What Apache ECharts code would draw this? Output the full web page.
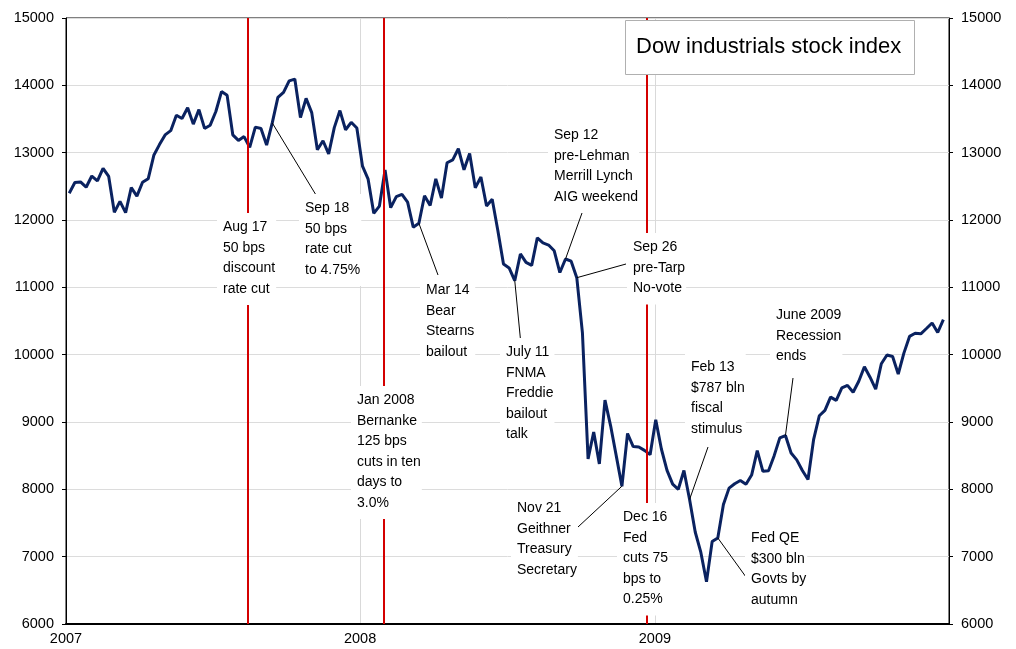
<!DOCTYPE html>
<html>
<head>
<meta charset="utf-8">
<title>Dow industrials stock index</title>
<script src="https://cdn.jsdelivr.net/npm/echarts@6/dist/echarts.min.js"></script>
<style>
  html, body { margin: 0; padding: 0; background: #fff; }
  #chart { width: 1016px; height: 649px; }
</style>
</head>
<body>
<div id="chart"></div>
<script>
// weekly closes (Friday)
const dow2007 = [12398, 12556, 12565, 12487, 12653, 12581, 12768, 12647, 12114, 12276,
  12110, 12481, 12354, 12560, 12612, 12961, 13120, 13264, 13327, 13556,
  13507, 13668, 13424, 13639, 13360, 13408, 13611, 13907, 13851, 13265,
  13182, 13239, 13079, 13379, 13358, 13113, 13442, 13821, 13896, 14066,
  14093, 13522, 13807, 13595, 13043, 13177, 12981, 13372, 13625, 13340,
  13451, 13366];
const dow2008 = [12800, 12606, 12099, 12207, 12743, 12183, 12348, 12381, 12266, 11894,
  11951, 12361, 12216, 12610, 12325, 12850, 12892, 13058, 12745, 12986,
  12480, 12638, 12209, 12307, 11843, 11346, 11288, 11100, 11496, 11370,
  11326, 11734, 11659, 11628, 11543, 11220, 11421, 11388, 11143, 10325,
  8451, 8852, 8378, 9325, 8943, 8497, 8046, 8829, 8635, 8630,
  8579, 8515];
const dow2009 = [9034, 8599, 8281, 8077, 8001, 8280, 7850, 7366, 7063, 6627,
  7224, 7279, 7776, 8018, 8083, 8131, 8076, 8212, 8575, 8268,
  8277, 8500, 8764, 8799, 8539, 8438, 8280, 8146, 8743, 9093,
  9172, 9370, 9321, 9506, 9544, 9441, 9605, 9820, 9665, 9487,
  9865, 9995, 9972, 9713, 10023, 10271, 10318, 10310, 10389, 10471,
  10329, 10520];

const yearLabels = ['2007', '2008', '2009', '2010'];
const yMin = 6000, yMax = 15000, yStep = 1000;

// red event lines
const eventDates = ['2007-08-15', '2008-01-31', '2008-12-22'];

// text notes: x/y = top left of the text in pixels, from = week the pointer starts at
const notes = [
  { text: 'Aug 17\n50 bps\ndiscount\nrate cut', x: 223, y: 217 },
  { text: 'Sep 18\n50 bps\nrate cut\nto 4.75%', x: 305, y: 198, from: '2007-09-14', to: [316, 195] },
  { text: 'Jan 2008\nBernanke\n125 bps\ncuts in ten\ndays to\n3.0%', x: 357, y: 390 },
  { text: 'Mar 14\nBear\nStearns\nbailout', x: 426, y: 280, from: '2008-03-14', to: [438, 275] },
  { text: 'Sep 12\npre-Lehman\nMerrill Lynch\nAIG weekend', x: 554, y: 125, from: '2008-09-12', to: [582, 213] },
  { text: 'Sep 26\npre-Tarp\nNo-vote', x: 633, y: 237, from: '2008-09-26', to: [626, 264] },
  { text: 'July 11\nFNMA\nFreddie\nbailout\ntalk', x: 506, y: 342, from: '2008-07-11', to: [521, 345] },
  { text: 'Nov 21\nGeithner\nTreasury\nSecretary', x: 517, y: 498, from: '2008-11-21', to: [578, 527] },
  { text: 'Dec 16\nFed\ncuts 75\nbps to\n0.25%', x: 623, y: 507 },
  { text: 'Feb 13\n$787 bln\nfiscal\nstimulus', x: 691, y: 357, from: '2009-02-13', to: [708, 447] },
  { text: 'June 2009\nRecession\nends', x: 776, y: 305, from: '2009-06-12', to: [793, 378] },
  { text: 'Fed QE\n$300 bln\nGovts by\nautumn', x: 751, y: 528, from: '2009-03-20', to: [746, 577] }
];

// x axis counts days from 1 Jan 2007
const DAY = 86400000;
const origin = Date.UTC(2007, 0, 1);
const dayOf = s => Math.round((Date.UTC(+s.slice(0, 4), +s.slice(5, 7) - 1, +s.slice(8, 10)) - origin) / DAY);
const yearDays = yearLabels.map(y => dayOf(y + '-01-01'));

const closes = dow2007.concat(dow2008, dow2009);
const weekDays = closes.map((v, i) => dayOf('2007-01-05') + 7 * i);
const seriesData = closes.map((v, i) => [weekDays[i], v]);

const FONT = '"Liberation Sans", Arial, sans-serif';
const noteSize = 14;
const axisSize = 14.5;
const titleSize = 22;

const chart = echarts.init(document.getElementById('chart'));

const yAxisBase = {
  type: 'value',
  min: yMin,
  max: yMax,
  interval: yStep,
  axisLine: { show: true, lineStyle: { color: '#000', width: 1 } },
  axisTick: { show: true, length: 4, lineStyle: { color: '#000' } },
  axisLabel: { color: '#000', fontFamily: FONT, fontSize: axisSize, margin: 12, formatter: v => String(v) }
};

chart.setOption({
  animation: false,
  grid: { left: 66, right: 67, top: 18, bottom: 25, show: true, borderColor: '#000', borderWidth: 1 },
  xAxis: {
    type: 'value',
    min: yearDays[0],
    max: yearDays[3],
    axisLine: { show: true, lineStyle: { color: '#000', width: 2 } },
    axisTick: { show: false, customValues: yearDays.slice(0, 3) },
    axisLabel: {
      customValues: yearDays.slice(0, 3),
      color: '#000', fontFamily: FONT, fontSize: axisSize, margin: 7,
      formatter: v => yearLabels[yearDays.indexOf(v)]
    },
    splitLine: { show: true, lineStyle: { color: '#d9d9d9', width: 1 } }
  },
  yAxis: [
    Object.assign({}, yAxisBase, {
      position: 'left',
      splitLine: { show: true, lineStyle: { color: '#dcdcdc', width: 1 } }
    }),
    Object.assign({}, yAxisBase, { position: 'right', splitLine: { show: false } })
  ],
  series: [{
    type: 'line',
    data: seriesData,
    showSymbol: false,
    symbol: 'none',
    lineStyle: { color: '#0a2260', width: 3 },
    z: 3,
    markLine: {
      silent: true,
      symbol: 'none',
      label: { show: false },
      lineStyle: { color: '#d40000', width: 2, type: 'solid' },
      data: eventDates.map(d => ({ xAxis: dayOf(d) }))
    }
  }]
});

// notes are drawn after the axes exist, so the pointers can start on the line
const pad = [4, 1, 6, 6];
const graphics = [];
notes.forEach(n => {
  if (n.from) {
    const i = weekDays.indexOf(dayOf(n.from));
    const p = chart.convertToPixel({ gridIndex: 0 }, [weekDays[i], closes[i]]);
    graphics.push({
      type: 'line', z: 90, silent: true,
      shape: { x1: p[0], y1: p[1], x2: n.to[0], y2: n.to[1] },
      style: { stroke: '#000', lineWidth: 1 }
    });
  }
  graphics.push({
    type: 'text', z: 100, silent: true,
    x: n.x - pad[3], y: n.y - pad[0],
    style: {
      text: n.text, font: noteSize + 'px ' + FONT, lineHeight: 20.5,
      fill: '#000', backgroundColor: '#fff', padding: pad
    }
  });
});

// title box
graphics.push({
  type: 'rect', z: 100, silent: true,
  shape: { x: 625.5, y: 20.5, width: 289, height: 54 },
  style: { fill: '#fff', stroke: '#b0b0b0', lineWidth: 1 }
});
graphics.push({
  type: 'text', z: 101, silent: true,
  x: 636, y: 47,
  style: {
    text: 'Dow industrials stock index', font: titleSize + 'px ' + FONT,
    fill: '#000', verticalAlign: 'middle'
  }
});

chart.setOption({ graphic: graphics });
</script>
</body>
</html>
